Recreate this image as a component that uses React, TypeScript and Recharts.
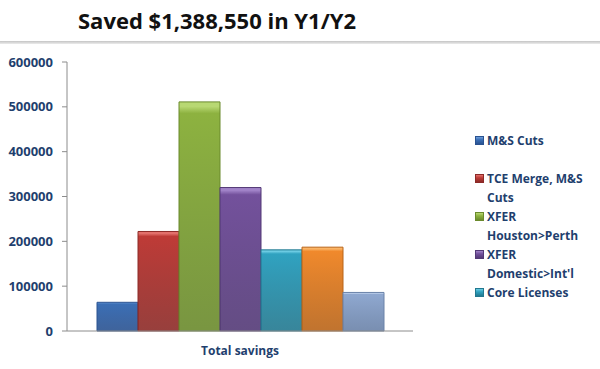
import React from 'react';
import { BarChart, Bar, XAxis, YAxis, Legend } from 'recharts';

const categories = ['Total savings'];
const seriesNames = ['M&S Cuts', 'TCE Merge, M&S Cuts', 'XFER Houston>Perth', "XFER Domestic>Int'l", 'Core Licenses', 'Series 6', 'Series 7'];
const seriesValues = [64000, 222000, 511000, 320000, 181000, 187000, 86000];
const legendCount = 5;
const yTicks = [0, 100000, 200000, 300000, 400000, 500000, 600000];

// base, light (top bevel), dark (stroke / bottom)
const palette = [
    ['#3B6FB6', '#6E9EDA', '#2A5290'],
    ['#BE3B37', '#E2706B', '#8C2A27'],
    ['#8DB240', '#B8D873', '#6A8A2C'],
    ['#73519C', '#A183C8', '#533976'],
    ['#30A2C0', '#6CCBE2', '#22788F'],
    ['#F0892C', '#FAB466', '#B96418'],
    ['#8FA8D0', '#BDD0EC', '#6A82A8'],
];

const navy = '#1F3F6E';
const font = '"Open Sans", sans-serif';

const data = categories.map((name) => {
    const row: Record<string, string | number> = { name };
    seriesValues.forEach((v, i) => { row['s' + i] = v; });
    return row;
});

// only the first entries fit in the legend box of the original
function LegendBox() {
    return (
        <div style={{ fontFamily: font, fontSize: 12, fontWeight: 700, color: navy, lineHeight: '19px' }}>
            {seriesNames.slice(0, legendCount).map((n, i) => (
                <div key={n} style={{ display: 'flex', alignItems: 'flex-start', marginBottom: i === 0 ? 19 : 0 }}>
                    <span style={{
                        display: 'inline-block', width: 7, height: 7, marginTop: 5, marginRight: 3, flexShrink: 0,
                        background: `linear-gradient(${palette[i][1]}, ${palette[i][0]} 40%, ${palette[i][2]})`,
                        border: `1px solid ${palette[i][2]}`
                    }} />
                    <span style={{ width: 112 }}>{n}</span>
                </div>
            ))}
        </div>
    );
}

export default function App() {
    return (
        <div style={{ position: 'absolute', left: 0, top: 0, width: 600, height: 369, background: '#fff', overflow: 'hidden' }}>
            <div style={{ position: 'absolute', left: 78, top: 5, fontFamily: font, fontWeight: 700, fontSize: 22, color: '#111', whiteSpace: 'nowrap' }}>
                Saved $1,388,550 in Y1/Y2
            </div>
            <div style={{ position: 'absolute', left: 0, top: 41, width: 600, height: 3, background: 'linear-gradient(#c4c4c4, #ececec)' }} />
            <div style={{ position: 'absolute', left: 0, top: 0 }}>
                <BarChart
                    width={600}
                    height={369}
                    data={data}
                    margin={{ top: 62, right: 187, bottom: 8, left: 0 }}
                    barCategoryGap={30}
                    barGap={0}
                >
                    <defs>
                        {palette.map((c, i) => (
                            <linearGradient key={i} id={'g' + i} x1="0" y1="0" x2="0" y2="1">
                                <stop offset="0%" stopColor={c[1]} />
                                <stop offset="2%" stopColor={c[1]} />
                                <stop offset="5%" stopColor={c[0]} />
                                <stop offset="100%" stopColor={c[2]} stopOpacity={0.9} />
                            </linearGradient>
                        ))}
                    </defs>
                    <XAxis
                        dataKey="name"
                        height={30}
                        axisLine={{ stroke: '#8c8c8c' }}
                        tickLine={false}
                        tickMargin={9}
                        tick={{ fill: navy, fontSize: 12, fontWeight: 700, fontFamily: font }}
                    />
                    <YAxis
                        width={67}
                        domain={[0, 600000]}
                        ticks={yTicks}
                        interval={0}
                        axisLine={{ stroke: '#8c8c8c' }}
                        tickLine={{ stroke: '#8c8c8c' }}
                        tickSize={5}
                        tickMargin={9}
                        tick={{ fill: navy, fontSize: 13, fontWeight: 700, fontFamily: font }}
                    />
                    <Legend
                        layout="vertical"
                        align="center"
                        verticalAlign="middle"
                        wrapperStyle={{ left: 475, top: 131, width: 125 }}
                        content={<LegendBox />}
                    />
                    {seriesNames.map((n, i) => (
                        <Bar
                            key={n}
                            dataKey={'s' + i}
                            name={n}
                            fill={`url(#g${i})`}
                            stroke={palette[i][2]}
                            strokeWidth={1}
                            legendType={i < legendCount ? 'square' : 'none'}
                            isAnimationActive={false}
                        />
                    ))}
                </BarChart>
            </div>
        </div>
    );
}
